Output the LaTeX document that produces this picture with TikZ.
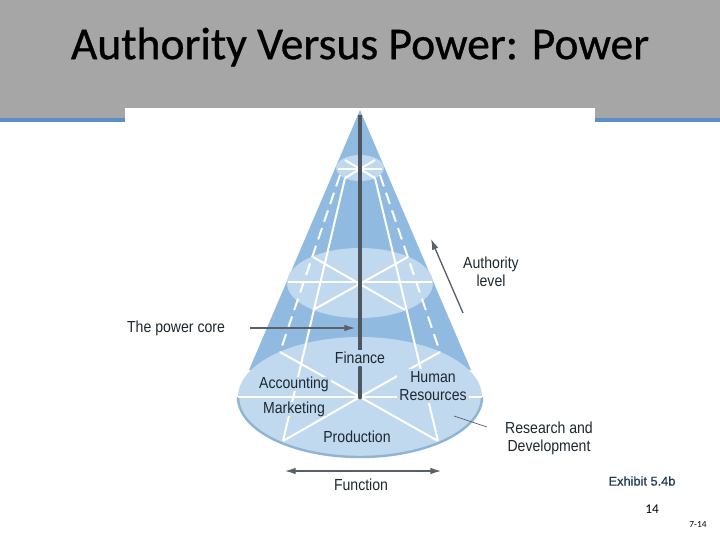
\documentclass[tikz,border=0pt]{standalone}
\usepackage{fontspec}
\setmainfont{Liberation Sans}
\newfontfamily\slidefont{Carlito}
\newfontfamily\titlefont[FakeBold=0.7]{Carlito}
\newfontfamily\exhibitfont[FakeBold=0.5]{Liberation Sans}
\newfontfamily\labelfont[FakeStretch=0.88]{Liberation Sans}
\usepackage{tikz}
\usetikzlibrary{arrows.meta}
\definecolor{bandgray}{HTML}{A6A6A6}
\definecolor{barblue}{HTML}{5B8FCB}
\definecolor{conesblue}{HTML}{90BAE0}
\definecolor{disclight}{HTML}{C1D9EE}
\definecolor{rimblue}{HTML}{8FB4D2}
\definecolor{coredark}{HTML}{4E5660}
\definecolor{labeldark}{HTML}{1E2830}
\definecolor{arrowgray}{HTML}{5A6068}
\definecolor{exhibitblue}{HTML}{1F3B57}
\tikzset{
  conelabel/.style={inner sep=0.75pt,font=\labelfont\fontsize{12}{13.5}\selectfont,text=labeldark,align=center},
  disclabel/.style={conelabel,fill=disclight,inner sep=1.5pt},
  whiteline/.style={white,line width=1.5pt},
  whitedash/.style={white,line width=1.5pt,dash pattern={on 9pt off 5pt}},
  callout/.style={arrowgray,line width=1pt,-{Latex[length=8pt,width=5pt]}},
}
\begin{document}
\begin{tikzpicture}[x=0.75pt,y=0.75pt,yscale=-1,xscale=1]
\useasboundingbox (0,0) rectangle (720,540);
\fill [white] (0,0) rectangle (720,540);

%Title band
\fill [bandgray] (0,0) rectangle (720,118);
\fill [barblue] (0,118) rectangle (720,122);
\fill [white] (125,108) rectangle (595,540);

%Cone
\fill [conesblue] (360,110) -- (249,370) -- (471,370) -- cycle;
\fill [disclight] (360,168) circle [x radius=24, y radius=13];
\fill [disclight] (360,283) circle [x radius=73, y radius=35];
\fill [disclight] (360,397) circle [x radius=122, y radius=60];
\draw [rimblue,line width=1.8pt] (238,397) arc (180:0:122 and 60);

%Top disc lines
\draw [whiteline] (338,169) -- (382,169);
\draw [whiteline] (345,160) -- (375,178);
\draw [whiteline] (375,160) -- (345,178);
%Middle disc lines
\draw [whiteline] (288,282) -- (432,282);
\draw [whiteline] (313,257) -- (405,310);
\draw [whiteline] (408,257) -- (313,310);
%Bottom disc lines
\draw [whiteline] (238,397) -- (482,397);
\draw [whiteline] (280,352) -- (360,397) -- (438,441);
\draw [whiteline] (440,352) -- (360,397) -- (283,441);
%Long edges
\draw [whiteline] (345,178) -- (283,441);
\draw [whiteline] (375,178) -- (438,441);
\draw [whitedash] (340,175) -- (280,352);
\draw [whitedash] (380,175) -- (440,352);

%Core
\draw [coredark,line width=3.7pt] (360,115) -- (360,350);
\draw [coredark,line width=3.7pt,line cap=round] (360,368) -- (360,397);

%Callouts
\coordinate (authorityfoot) at (463,313);
\coordinate (authorityhead) at (431,239);
\coordinate (corefoot) at (250,328);
\coordinate (corehead) at (355,328);
\coordinate (functionleft) at (285,471);
\coordinate (functionright) at (441,471);
\coordinate (researchin) at (454,416);
\coordinate (researchout) at (487,427);
\draw [callout] (authorityfoot) -- (authorityhead);
\draw [callout] (corefoot) -- (corehead);
\draw [callout,{Latex[length=8pt,width=5pt]}-{Latex[length=8pt,width=5pt]}] (functionleft) -- (functionright);
\draw [arrowgray,line width=0.5pt] (researchin) -- (researchout);

% Text Node
\node (title) at (360,47) [font=\titlefont\fontsize{34.2}{38}\selectfont,text=black,inner sep=0.75pt] {Authority Versus Power: Power};
% Text Node
\node (authority) at (491,272) [conelabel] {Authority\\level};
% Text Node
\node (powercore) at (176,328) [conelabel] {The power core};
% Text Node
\node (finance) at (360,358) [disclabel] {Finance};
% Text Node
\node (accounting) at (294,384) [disclabel,inner ysep=0pt] {Accounting};
% Text Node
\node (marketing) at (294,409) [disclabel,inner ysep=0pt] {Marketing};
% Text Node
\node (human) at (433,386) [disclabel] {Human\\Resources};
% Text Node
\node (production) at (357,437) [disclabel] {Production};
% Text Node
\node (research) at (549,438) [conelabel] {Research and\\Development};
% Text Node
\node (function) at (361,485) [conelabel] {Function};
% Text Node
\node (exhibit) at (642,481) [inner sep=0.75pt,text=exhibitblue,font=\exhibitfont\fontsize{9.6}{11}\selectfont] {Exhibit 5.4b};
% Text Node
\node (pagenum) at (652,509) [inner sep=0.75pt,font=\slidefont\fontsize{10}{11}\selectfont] {14};
% Text Node
\node (slidenum) at (698,524) [inner sep=0.75pt,font=\slidefont\fontsize{7}{8}\selectfont] {7-14};
\end{tikzpicture}
\end{document}
